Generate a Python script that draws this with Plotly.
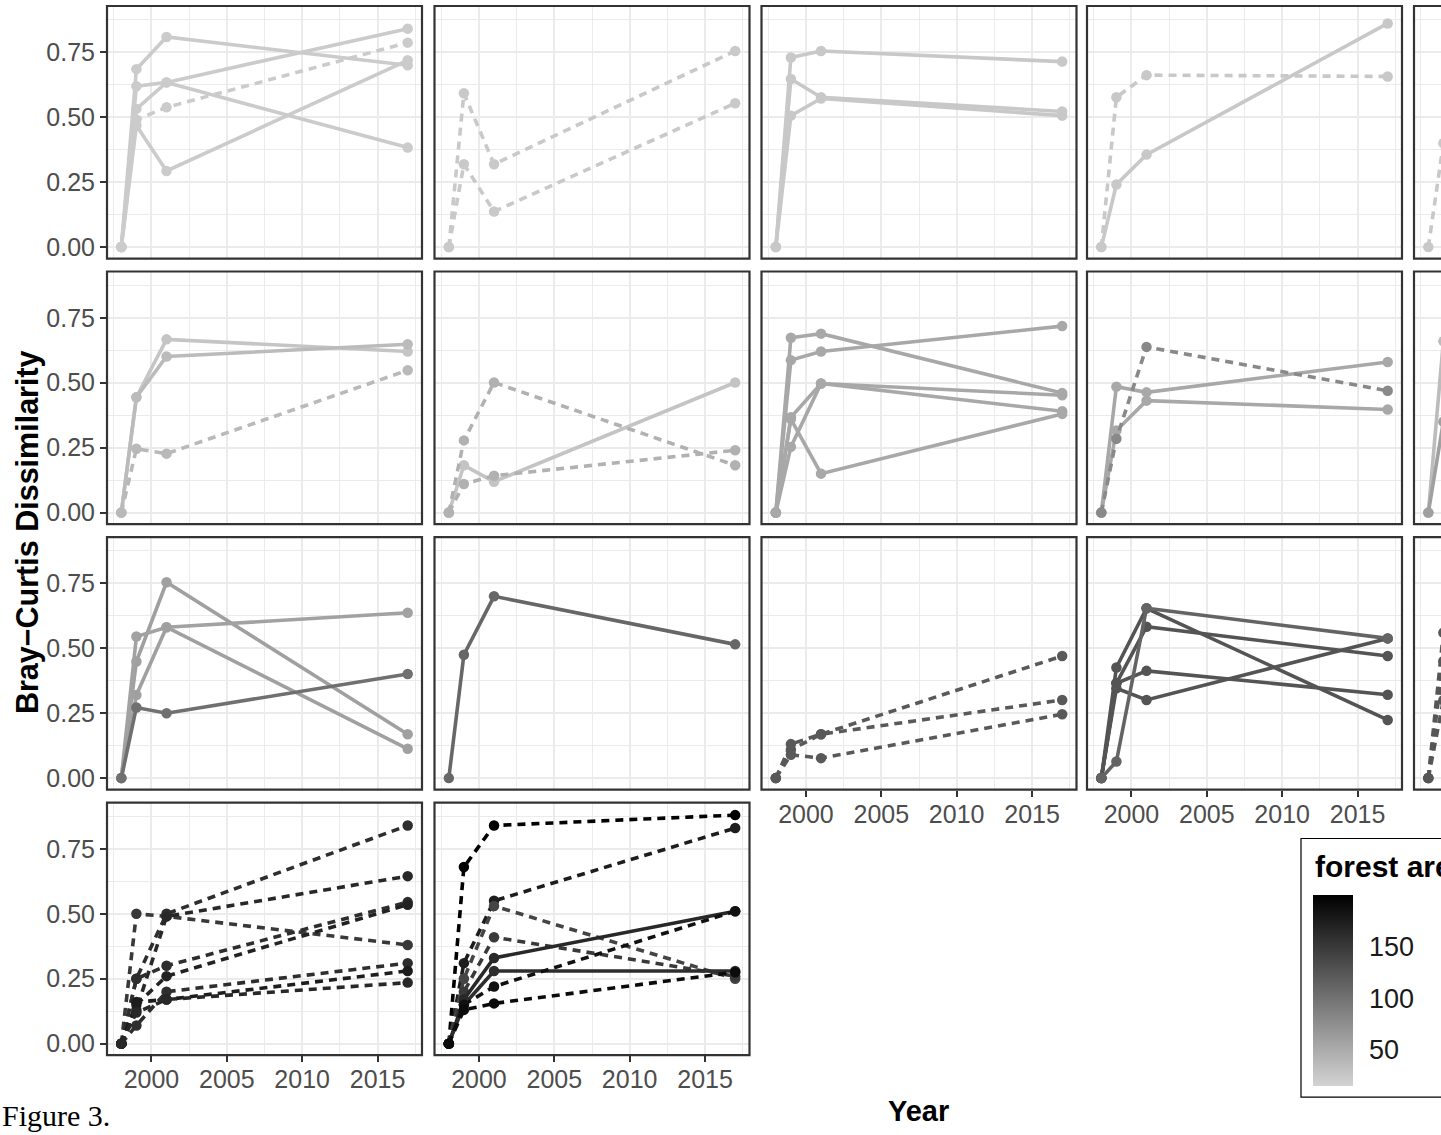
import plotly.graph_objects as go
from plotly.colors import sample_colorscale

# ---------------- data ----------------
YEARS = [1998, 1999, 2001, 2017]
X_TICKS = [2000, 2005, 2010, 2015]
Y_TICKS = [0.0, 0.25, 0.5, 0.75]
Y_TICK_TEXT = ["0.00", "0.25", "0.50", "0.75"]
AREA_TICKS = [50, 100, 150]
AREA_MIN, AREA_MAX = 15, 200

# each trajectory: (forest area, line type, Bray-Curtis dissimilarity at YEARS)
PANEL_R1C1 = [
    (22, "solid", [0, 0.685, 0.809, 0.700]),
    (22, "solid", [0, 0.619, 0.634, 0.841]),
    (22, "solid", [0, 0.532, 0.634, 0.383]),
    (22, "solid", [0, 0.468, 0.293, 0.719]),
    (22, "dashed", [0, 0.490, 0.538, 0.787]),
]
PANEL_R1C2 = [
    (24, "dashed", [0, 0.592, 0.319, 0.755]),
    (24, "dashed", [0, 0.319, 0.137, 0.554]),
]
PANEL_R1C3 = [
    (25, "solid", [0, 0.730, 0.755, 0.714]),
    (25, "solid", [0, 0.647, 0.577, 0.522]),
    (25, "solid", [0, 0.506, 0.572, 0.506]),
]
PANEL_R1C4 = [
    (25, "solid", [0, 0.241, 0.356, 0.861]),
    (25, "dashed", [0, 0.577, 0.662, 0.657]),
]
PANEL_R1C5 = [
    (25, "dashed", [0, 0.400, 0.500, 0.600]),
]
PANEL_R2C1 = [
    (27, "solid", [0, 0.444, 0.667, 0.620]),
    (36, "solid", [0, 0.444, 0.601, 0.648]),
    (38, "dashed", [0, 0.246, 0.227, 0.548]),
]
PANEL_R2C2 = [
    (28, "solid", [0, 0.182, 0.119, 0.501]),
    (45, "dashed", [0, 0.278, 0.501, 0.182]),
    (45, "dashed", [0, 0.110, 0.142, 0.240]),
]
PANEL_R2C3 = [
    (53, "solid", [0, 0.673, 0.689, 0.460]),
    (53, "solid", [0, 0.587, 0.620, 0.718]),
    (53, "solid", [0, 0.367, 0.497, 0.452]),
    (53, "solid", [0, 0.253, 0.497, 0.390]),
    (53, "solid", [0, 0.360, 0.150, 0.380]),
]
PANEL_R2C4 = [
    (53, "solid", [0, 0.485, 0.463, 0.580]),
    (53, "solid", [0, 0.316, 0.431, 0.397]),
    (80, "dashed", [0, 0.284, 0.638, 0.469]),
]
PANEL_R2C5 = [
    (35, "solid", [0, 0.660, 0.600, 0.600]),
    (60, "solid", [0, 0.350, 0.400, 0.400]),
]
PANEL_R3C1 = [
    (60, "solid", [0, 0.449, 0.754, 0.169]),
    (58, "solid", [0, 0.545, 0.581, 0.637]),
    (60, "solid", [0, 0.320, 0.581, 0.113]),
    (102, "solid", [0, 0.272, 0.250, 0.401]),
]
PANEL_R3C2 = [
    (110, "solid", [0, 0.475, 0.700, 0.515]),
]
PANEL_R3C3 = [
    (122, "dashed", [0, 0.131, 0.169, 0.470]),
    (122, "dashed", [0, 0.109, 0.169, 0.301]),
    (122, "dashed", [0, 0.090, 0.077, 0.246]),
]
PANEL_R3C4 = [
    (126, "solid", [0, 0.426, 0.654, 0.224]),
    (126, "solid", [0, 0.365, 0.583, 0.470]),
    (126, "solid", [0, 0.365, 0.413, 0.321]),
    (126, "solid", [0, 0.346, 0.301, 0.538]),
    (112, "solid", [0, 0.064, 0.654, 0.538]),
]
PANEL_R3C5 = [
    (125, "dashed", [0, 0.560, 0.500, 0.500]),
    (125, "dashed", [0, 0.450, 0.400, 0.400]),
    (125, "dashed", [0, 0.300, 0.300, 0.300]),
]
PANEL_R4C1 = [
    (160, "dashed", [0, 0.250, 0.500, 0.840]),
    (150, "dashed", [0, 0.500, 0.490, 0.380]),
    (165, "dashed", [0, 0.130, 0.490, 0.645]),
    (160, "dashed", [0, 0.250, 0.300, 0.545]),
    (170, "dashed", [0, 0.150, 0.260, 0.535]),
    (160, "dashed", [0, 0.070, 0.200, 0.310]),
    (175, "dashed", [0, 0.160, 0.170, 0.280]),
    (165, "dashed", [0, 0.120, 0.170, 0.235]),
]
PANEL_R4C2 = [
    (200, "dashed", [0, 0.680, 0.840, 0.880]),
    (175, "dashed", [0, 0.310, 0.550, 0.830]),
    (140, "dashed", [0, 0.250, 0.530, 0.250]),
    (150, "dashed", [0, 0.200, 0.410, 0.260]),
    (165, "solid", [0, 0.170, 0.330, 0.510]),
    (160, "solid", [0, 0.150, 0.280, 0.280]),
    (185, "dashed", [0, 0.150, 0.220, 0.510]),
    (190, "dashed", [0, 0.130, 0.155, 0.275]),
]

PANELS = {
    (1, 1): PANEL_R1C1, (1, 2): PANEL_R1C2, (1, 3): PANEL_R1C3, (1, 4): PANEL_R1C4, (1, 5): PANEL_R1C5,
    (2, 1): PANEL_R2C1, (2, 2): PANEL_R2C2, (2, 3): PANEL_R2C3, (2, 4): PANEL_R2C4, (2, 5): PANEL_R2C5,
    (3, 1): PANEL_R3C1, (3, 2): PANEL_R3C2, (3, 3): PANEL_R3C3, (3, 4): PANEL_R3C4, (3, 5): PANEL_R3C5,
    (4, 1): PANEL_R4C1, (4, 2): PANEL_R4C2,
}
X_LABEL_PANELS = {(3, 3), (3, 4), (3, 5), (4, 1), (4, 2)}

# ---------------- layout geometry ----------------
W, H = 1441, 1135
COL_LEFT = [107, 434.5, 761.5, 1087, 1414]
ROW_TOP = [6, 272, 538, 804]
PW, PH = 315, 253
X_RANGE = [1997.05, 2017.95]
Y_RANGE = [-0.0442, 0.9282]
PX_PER_YEAR = PW / (X_RANGE[1] - X_RANGE[0])

SCALE = [[0.0, "rgb(211,211,211)"], [1.0, "rgb(0,0,0)"]]
FONT = "Liberation Sans, Arial, sans-serif"
GRID = "#EBEBEB"
BORDER = "#333333"
DASH = "8px,6px"


def area_color(a):
    return sample_colorscale(SCALE, [(a - AREA_MIN) / (AREA_MAX - AREA_MIN)])[0]


fig = go.Figure()
layout = dict(
    width=W, height=H, autosize=False,
    margin=dict(l=0, r=0, t=0, b=0, pad=0),
    paper_bgcolor="white", plot_bgcolor="white",
    showlegend=False,
)
shapes = []

for idx, ((r, c), trajs) in enumerate(PANELS.items(), start=1):
    sfx = "" if idx == 1 else str(idx)
    left = COL_LEFT[c - 1]
    right = left + PW
    top = ROW_TOP[r - 1]
    bottom = top + PH
    xr = list(X_RANGE)
    if right > W:
        xr[1] = X_RANGE[0] + (W - left) / PX_PER_YEAR
        right_dom = W
    else:
        right_dom = right
    show_x = (r, c) in X_LABEL_PANELS
    show_y = c == 1
    layout["xaxis" + sfx] = dict(
        domain=[left / W, right_dom / W], range=xr, anchor="y" + sfx,
        tickmode="array", tickvals=X_TICKS, ticktext=[str(v) for v in X_TICKS],
        showgrid=True, gridcolor=GRID, gridwidth=1.6,
        minor=dict(tickmode="array", tickvals=[1997.5, 2002.5, 2007.5, 2012.5, 2017.5],
                   showgrid=True, gridcolor=GRID, gridwidth=0.8, ticks=""),
        zeroline=False, showline=False,
        ticks="outside" if show_x else "", ticklen=6, tickwidth=2, tickcolor=BORDER,
        ticklabelstandoff=-4,
        showticklabels=show_x, tickfont=dict(family=FONT, size=25, color="#4D4D4D"),
        fixedrange=True,
    )
    layout["yaxis" + sfx] = dict(
        domain=[1 - bottom / H, 1 - top / H], range=Y_RANGE, anchor="x" + sfx,
        tickmode="array", tickvals=Y_TICKS, ticktext=Y_TICK_TEXT,
        showgrid=True, gridcolor=GRID, gridwidth=1.6,
        minor=dict(tickmode="array", tickvals=[0.125, 0.375, 0.625, 0.875],
                   showgrid=True, gridcolor=GRID, gridwidth=0.8, ticks=""),
        zeroline=False, showline=False,
        ticks="outside" if show_y else "", ticklen=6, tickwidth=2, tickcolor=BORDER,
        showticklabels=show_y, tickfont=dict(family=FONT, size=25, color="#4D4D4D"),
        fixedrange=True,
    )
    shapes.append(dict(type="rect", xref="paper", yref="paper", layer="above",
                       x0=left / W, x1=right / W, y0=1 - bottom / H, y1=1 - top / H,
                       line=dict(color=BORDER, width=2.2), fillcolor="rgba(0,0,0,0)"))
    for area, ltype, vals in trajs:
        col = area_color(area)
        fig.add_trace(go.Scatter(
            x=YEARS, y=vals, mode="lines+markers",
            xaxis="x" + sfx, yaxis="y" + sfx,
            line=dict(color=col, width=3.6, dash="solid" if ltype == "solid" else DASH),
            marker=dict(color=col, size=10.5),
            hoverinfo="skip", showlegend=False,
        ))

# colour bar (legend for forest area)
CB_BOTTOM, CB_TOP = 1088, 897
CB_LEFT, CB_W = 1313, 40
fig.add_trace(go.Scatter(
    x=[None], y=[None], mode="markers", xaxis="x", yaxis="y",
    marker=dict(color=[AREA_MIN], cmin=AREA_MIN, cmax=AREA_MAX, colorscale=SCALE, size=1,
                showscale=True,
                colorbar=dict(x=CB_LEFT / W, xanchor="left", xpad=0,
                              y=1 - CB_BOTTOM / H, yanchor="bottom", ypad=0,
                              len=CB_BOTTOM - CB_TOP, lenmode="pixels",
                              thickness=CB_W, thicknessmode="pixels", outlinewidth=0,
                              tickmode="array", tickvals=AREA_TICKS,
                              ticks="outside", ticklen=11, tickwidth=1, tickcolor="rgba(0,0,0,0)",
                              tickfont=dict(family=FONT, size=27, color="#1A1A1A"))),
    showlegend=False, hoverinfo="skip",
))
# white ticks on both sides of the colour bar
for v in AREA_TICKS:
    yy = 1 - (CB_BOTTOM - (v - AREA_MIN) / (AREA_MAX - AREA_MIN) * (CB_BOTTOM - CB_TOP)) / H
    for xa, xb in ((CB_LEFT, CB_LEFT + 9), (CB_LEFT + CB_W - 9, CB_LEFT + CB_W)):
        shapes.append(dict(type="line", xref="paper", yref="paper", layer="above",
                           x0=xa / W, x1=xb / W, y0=yy, y1=yy,
                           line=dict(color="white", width=1.5)))
# legend box
shapes.append(dict(type="rect", xref="paper", yref="paper", layer="below",
                   x0=1301 / W, x1=1480 / W, y0=1 - 1099 / H, y1=1 - 840 / H,
                   line=dict(color="black", width=1.2), fillcolor="rgba(0,0,0,0)"))

annotations = [
    dict(text="forest area", x=1313 / W, y=1 - 868 / H, xref="paper", yref="paper",
         xanchor="left", yanchor="middle", showarrow=False,
         font=dict(family=FONT, size=30, color="black", weight="bold")),
    dict(text="Bray\u2212Curtis Dissimilarity", x=27 / W, y=1 - 533 / H, xref="paper", yref="paper",
         xanchor="center", yanchor="middle", showarrow=False, textangle=-90,
         font=dict(family=FONT, size=30.5, color="black", weight="bold")),
    dict(text="Year", x=918 / W, y=1 - 1113 / H, xref="paper", yref="paper",
         xanchor="center", yanchor="middle", showarrow=False,
         font=dict(family=FONT, size=29, color="black", weight="bold")),
    dict(text="Figure 3.", x=0, y=1 - 1117 / H, xref="paper", yref="paper",
         xanchor="left", yanchor="middle", showarrow=False,
         font=dict(family="Liberation Serif, Times New Roman, serif", size=30, color="black")),
]

layout["shapes"] = shapes
layout["annotations"] = annotations
fig.update_layout(**layout)
fig.write_html("out.html")
